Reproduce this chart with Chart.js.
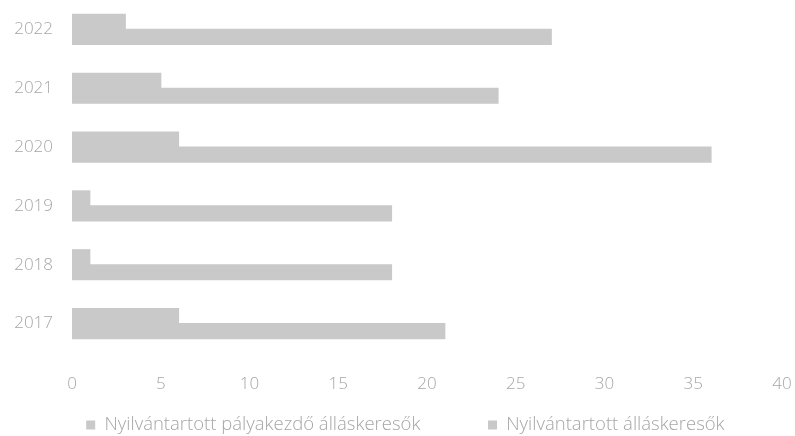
<!DOCTYPE html>
<html>
<head>
<meta charset="utf-8">
<script src="https://cdn.jsdelivr.net/npm/chart.js@4"></script>
<style>
  html, body { margin: 0; padding: 0; background: #fff; }
</style>
</head>
<body>
<canvas id="chart" width="795" height="436"></canvas>
<script>
// years, top to bottom as in the picture
const years = ['2022', '2021', '2020', '2019', '2018', '2017'];
const palyakezdo = [3, 5, 6, 1, 1, 6];
const osszes = [27, 24, 36, 18, 18, 21];
const seriesNames = ['Nyilvántartott pályakezdő álláskeresők', 'Nyilvántartott álláskeresők'];

const barColor = '#c9c9c9';
const textColor = '#a6a6a6';
const font = { family: "'Open Sans', sans-serif", size: 17, weight: 300 };
// extra room after each legend entry (the legend is spaced wide in the original)
const legendGaps = ['            ', '         '];

new Chart(document.getElementById('chart'), {
  type: 'bar',
  data: {
    labels: years,
    datasets: [
      { label: seriesNames[0], data: palyakezdo, backgroundColor: barColor },
      { label: seriesNames[1], data: osszes, backgroundColor: barColor }
    ]
  },
  options: {
    indexAxis: 'y',
    responsive: false,
    animation: false,
    categoryPercentage: 0.51,
    barPercentage: 1,
    // no white seam between the two bars of a year
    inflateAmount: 0.6,
    layout: { padding: { left: 0, right: 13, top: -1, bottom: -8.25 } },
    plugins: {
      tooltip: { enabled: false },
      legend: {
        position: 'bottom',
        fullSize: false,
        labels: {
          color: textColor,
          boxWidth: 9,
          boxHeight: 9,
          padding: 10,
          font: { family: "'Open Sans', sans-serif", size: 18.5, weight: 300 },
          generateLabels: (chart) =>
            Chart.defaults.plugins.legend.labels.generateLabels(chart)
              .map((item, i) => ({ ...item, text: item.text + legendGaps[i] }))
        }
      }
    },
    scales: {
      x: {
        min: 0,
        max: 40,
        ticks: { stepSize: 5, color: textColor, font: font, padding: 21 },
        grid: { display: false, drawTicks: false },
        border: { display: false },
        afterFit: (s) => { s.height = 52.75; s.paddingLeft = 0; s.paddingRight = 0; }
      },
      y: {
        ticks: { color: textColor, font: font, padding: 19 },
        grid: { display: false, drawTicks: false },
        border: { display: false },
        afterFit: (s) => { s.width = 72; s.paddingTop = 0; s.paddingBottom = 0; }
      }
    }
  }
});
</script>
</body>
</html>
